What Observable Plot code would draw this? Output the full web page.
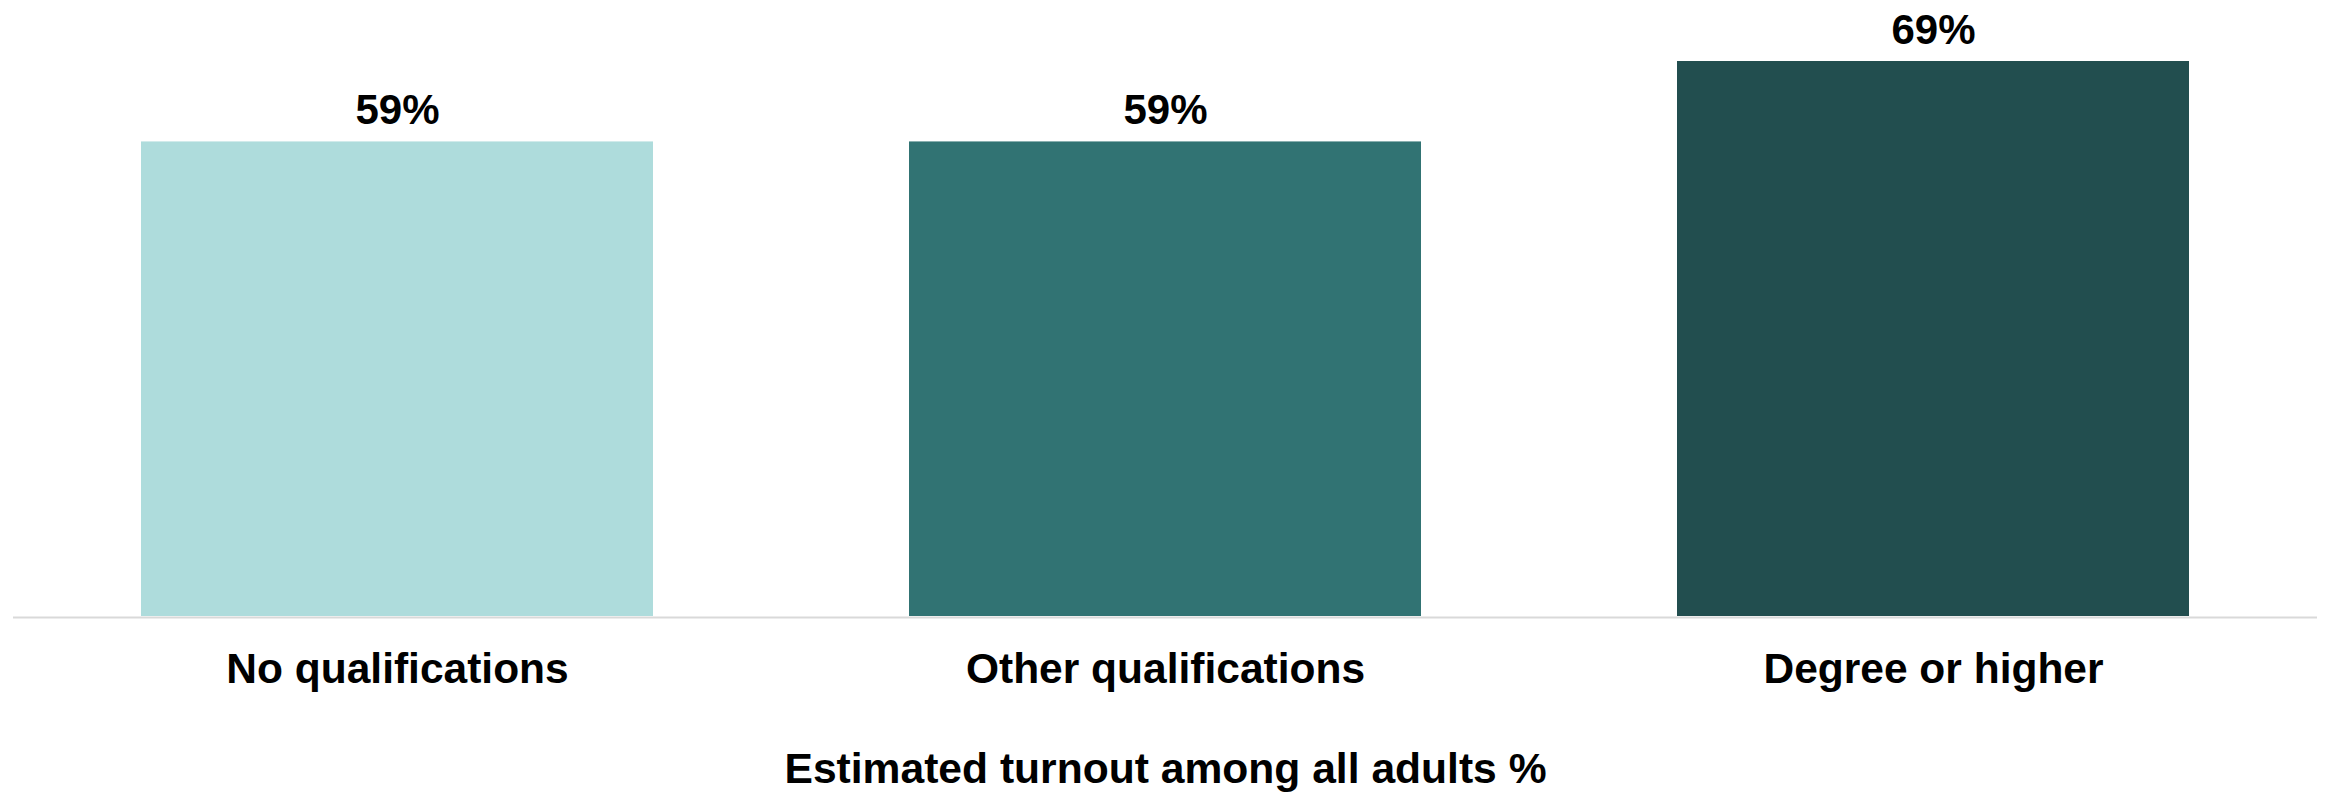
<!DOCTYPE html>
<html>
<head>
<meta charset="utf-8">
<script src="https://cdn.jsdelivr.net/npm/d3@7"></script>
<script src="https://cdn.jsdelivr.net/npm/@observablehq/plot@0.6"></script>
<style>
  html, body { margin: 0; padding: 0; background: #ffffff; overflow: hidden; }
  #chart svg { display: block; }
</style>
</head>
<body>
<div id="chart"></div>
<script>
const categories = ["No qualifications", "Other qualifications", "Degree or higher"];
const turnout = [59, 59, 69];
const axisTitle = "Estimated turnout among all adults %";

const barColors = ["#aedcdc", "#317373", "#224e4f"];
const data = categories.map((c, i) => ({category: c, value: turnout[i]}));

const font = "'Liberation Sans', Arial, Helvetica, sans-serif";

const chart = Plot.plot({
  width: 2328,
  height: 800,
  marginTop: 61,
  marginBottom: 184,
  marginLeft: 13,
  marginRight: 11,
  style: {fontFamily: font, background: "#ffffff"},
  x: {domain: categories, paddingInner: 1/3, paddingOuter: 1/6, label: null},
  y: {domain: [0, 69], axis: null},
  color: {domain: categories, range: barColors},
  marks: [
    Plot.barY(data, {x: "category", y: "value", fill: "category"}),
    Plot.ruleY([0], {stroke: "#d9d9d9", strokeWidth: 2, dy: 1}),
    Plot.text(data, {
      x: "category", y: "value", text: d => `${d.value}%`,
      lineAnchor: "bottom", dy: -18, fontSize: 42, fontWeight: "bold", fill: "#000000"
    }),
    Plot.axisX({tickSize: 0, tickPadding: 36, fontSize: 42.5, fontWeight: "bold", color: "#000000", label: null}),
    Plot.text([axisTitle], {
      frameAnchor: "bottom", lineAnchor: "bottom", dy: 166,
      fontSize: 42.6, fontWeight: "bold", fill: "#000000"
    })
  ]
});

document.getElementById("chart").appendChild(chart);
</script>
</body>
</html>
